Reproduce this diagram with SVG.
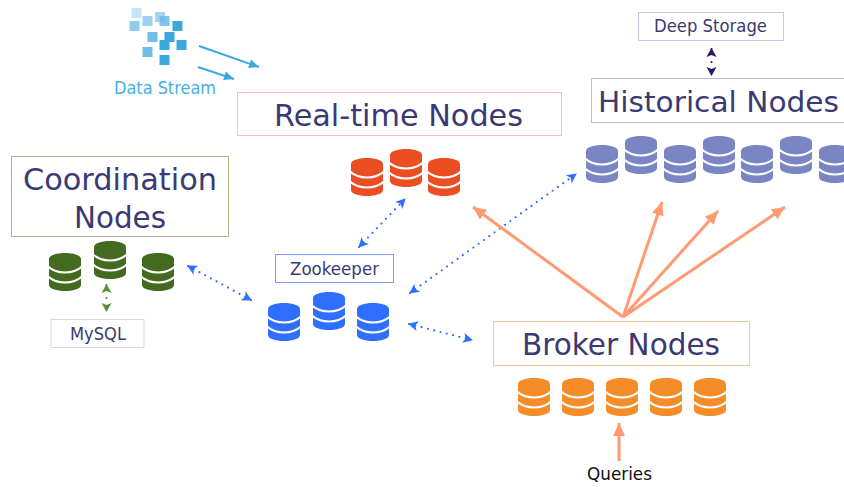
<svg xmlns="http://www.w3.org/2000/svg" xmlns:xlink="http://www.w3.org/1999/xlink" width="844" height="487" viewBox="0 0 844 487">
<style>
text{font-family:"DejaVu Sans","Liberation Sans",sans-serif;fill:#3a3a72;text-anchor:middle}
.lg{font-size:31px}
.sm{font-size:17px}
.box{fill:#fff;stroke-width:1}
.stripe{fill:none;stroke:#fff;stroke-width:2.200}
.dot{fill:none;stroke:#2f6fff;stroke-width:2.200;stroke-linecap:round;stroke-dasharray:0 6.500;marker-start:url(#blue);marker-end:url(#blue)}
.or{fill:none;stroke:#ff9a72;stroke-width:3;marker-end:url(#orange)}
.cy{fill:none;stroke:#3aa9e0;stroke-width:2;marker-end:url(#cyan)}
</style>
<defs>
<symbol id="db" width="32" height="38" viewBox="0 0 32 38" overflow="visible">
<path d="M0 6C0 2.500 7 0 16 0S32 2.500 32 6V32C32 35.500 25 38 16 38S0 35.500 0 32Z" fill="currentColor"/>
<path class="stripe" d="M-1 13.500C4 18 10 19.500 16 19.500S28 18 33 13.500"/>
<path class="stripe" d="M-1 23.500C4 28 10 29.500 16 29.500S28 28 33 23.500"/>
</symbol>
<marker id="blue" markerUnits="userSpaceOnUse" markerWidth="12" markerHeight="12" refX="9" refY="5" orient="auto-start-reverse" overflow="visible"><path d="M0 0L10 5L0 10L2.500 5Z" fill="#2f6fff"/></marker>
<marker id="orange" markerUnits="userSpaceOnUse" markerWidth="14" markerHeight="14" refX="13" refY="6" orient="auto" overflow="visible"><path d="M0 0L13 6L0 12Z" fill="#ff9a72"/></marker>
<marker id="cyan" markerUnits="userSpaceOnUse" markerWidth="12" markerHeight="12" refX="10" refY="4.500" orient="auto" overflow="visible"><path d="M0 0L10 4.500L0 9Z" fill="#3aa9e0"/></marker>
<marker id="green" markerUnits="userSpaceOnUse" markerWidth="12" markerHeight="12" refX="8" refY="5" orient="auto-start-reverse" overflow="visible"><path d="M0 0L9 5L0 10L2 5Z" fill="#5b9130"/></marker>
<marker id="navy" markerUnits="userSpaceOnUse" markerWidth="12" markerHeight="12" refX="8" refY="5" orient="auto-start-reverse" overflow="visible"><path d="M0 0L9 5L0 10L2 5Z" fill="#2a1463"/></marker>
</defs>
<rect width="844" height="487" fill="#fff"/>

<g id="data-stream">
<rect x="131.500" y="8" width="10" height="10" fill="#c5e5f6"/>
<rect x="129.500" y="21" width="10" height="10" fill="#8fcdee"/>
<rect x="142.500" y="16" width="10" height="10" fill="#9dd3f0"/>
<rect x="155" y="12" width="10" height="10" fill="#a5d7f2"/>
<rect x="159.500" y="16" width="10" height="10" fill="#68bce8" fill-opacity=".85"/>
<rect x="172.500" y="21" width="10" height="10" fill="#3aa9e0"/>
<rect x="147.500" y="32" width="10" height="10" fill="#6fbfe9"/>
<rect x="164.500" y="32" width="10" height="10" fill="#3aa9e0"/>
<rect x="159.500" y="40" width="10" height="10" fill="#3aa9e0"/>
<rect x="176.500" y="40" width="10" height="10" fill="#3aa9e0"/>
<rect x="142.500" y="47" width="10" height="10" fill="#6fbfe9"/>
<rect x="159.500" y="55" width="10" height="10" fill="#3aa9e0"/>
<text class="sm" x="165" y="94" textLength="102" lengthAdjust="spacingAndGlyphs" style="fill:#45b0e5">Data Stream</text>
</g>

<g id="real-time-nodes">
<rect class="box" x="237.500" y="92.500" width="324" height="43" stroke="#f5c4b8"/>
<text class="lg" x="398.500" y="126" textLength="249" lengthAdjust="spacingAndGlyphs">Real-time Nodes</text>
<g color="#ec4e24">
<use href="#db" x="351" y="158"/><use href="#db" x="390" y="149"/><use href="#db" x="428" y="158"/>
</g>
</g>

<g id="deep-storage">
<rect class="box" x="638.500" y="12.500" width="145" height="28" stroke="#c3c9ea"/>
<text class="sm" x="710.500" y="32" textLength="113" lengthAdjust="spacingAndGlyphs">Deep Storage</text>
</g>

<g id="historical-nodes">
<rect class="box" x="591.500" y="78.500" width="270" height="44" stroke="#b9c0e4"/>
<text x="718.500" y="112" textLength="241" lengthAdjust="spacingAndGlyphs" style="font-size:29px">Historical Nodes</text>
<g color="#7a86c4">
<use href="#db" x="586" y="145"/><use href="#db" x="625" y="136"/><use href="#db" x="664" y="145"/><use href="#db" x="703" y="136"/><use href="#db" x="741" y="145"/><use href="#db" x="780" y="136"/><use href="#db" x="819" y="145"/>
</g>
</g>

<g id="coordination-nodes">
<rect class="box" x="11.500" y="156.500" width="217" height="80" stroke="#a3b98a"/>
<text class="lg" x="120" y="190" textLength="194" lengthAdjust="spacingAndGlyphs">Coordination</text>
<text class="lg" x="120" y="228" textLength="92" lengthAdjust="spacingAndGlyphs">Nodes</text>
<g color="#436b1f">
<use href="#db" x="49" y="253"/><use href="#db" x="94" y="241"/><use href="#db" x="142" y="253"/>
</g>
</g>

<g id="mysql">
<rect class="box" x="51" y="319.500" width="93" height="28" stroke="#d5dccb"/>
<text class="sm" x="98" y="340" textLength="56" lengthAdjust="spacingAndGlyphs">MySQL</text>
</g>

<g id="zookeeper">
<rect class="box" x="275.500" y="254.500" width="118" height="28" stroke="#7a9ef5"/>
<text class="sm" x="334.500" y="275" textLength="89" lengthAdjust="spacingAndGlyphs">Zookeeper</text>
<g color="#2f6fff">
<use href="#db" x="268" y="303"/><use href="#db" x="313" y="292"/><use href="#db" x="357" y="303"/>
</g>
</g>

<g id="broker-nodes">
<rect class="box" x="493.500" y="321.500" width="256" height="44" stroke="#f0c69a"/>
<text class="lg" x="621" y="355" textLength="198" lengthAdjust="spacingAndGlyphs">Broker Nodes</text>
<g color="#f48c28">
<use href="#db" x="518" y="378"/><use href="#db" x="562" y="378"/><use href="#db" x="606" y="378"/><use href="#db" x="650" y="378"/><use href="#db" x="694" y="378"/>
</g>
</g>

<g id="queries">
<text class="sm" x="619.500" y="480" textLength="65" lengthAdjust="spacingAndGlyphs" style="fill:#111">Queries</text>
</g>

<g id="connectors">
<path class="cy" d="M199 46L259 67"/>
<path class="cy" d="M198 67L234 79"/>
<path class="dot" d="M188 266L251 300"/>
<path class="dot" d="M359 247L405 199"/>
<path class="dot" d="M410 293L576 174"/>
<path class="dot" d="M409 324L472 340"/>
<path d="M106.500 285V311" fill="none" stroke="#5b9130" stroke-width="2.200" stroke-linecap="round" stroke-dasharray="0 13" marker-start="url(#green)" marker-end="url(#green)"/>
<path d="M711.500 49V75" fill="none" stroke="#2a1463" stroke-width="2.200" stroke-linecap="round" stroke-dasharray="0 13" marker-start="url(#navy)" marker-end="url(#navy)"/>
<path class="or" d="M623 317L473 207"/>
<path class="or" d="M623 317L662 202"/>
<path class="or" d="M623 317L718 211"/>
<path class="or" d="M623 317L785 207"/>
<path class="or" d="M619 461V423"/>
</g>
</svg>
